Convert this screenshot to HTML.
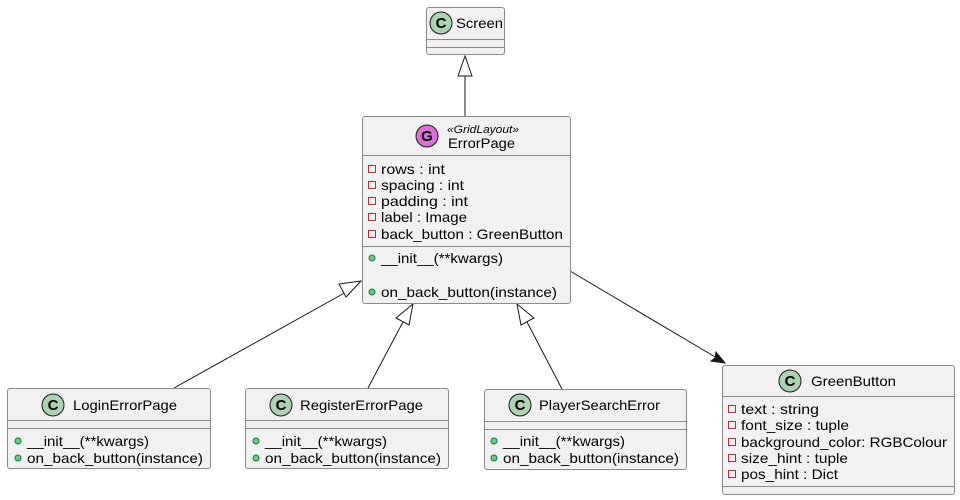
<!DOCTYPE html>
<html><head><meta charset="utf-8"><style>
html,body{margin:0;padding:0;background:#fff;}
svg{display:block;font-family:"Liberation Sans",sans-serif;}
</style></head><body>
<svg width="960" height="500" viewBox="0 0 960 500" xmlns="http://www.w3.org/2000/svg">
<defs>
<g id="pub"><circle r="3" fill="#84be84" stroke="#038048" stroke-width="1"/></g>
<g id="priv"><rect x="-3.5" y="-3.5" width="7" height="7" fill="none" stroke="#c82930" stroke-width="1"/></g>
</defs>
<g stroke="#181818" fill="none" stroke-width="1">
<line x1="465" y1="116" x2="465" y2="76"/>
<polygon points="465,56 458,76 472,76" fill="#fff"/>
<line x1="174" y1="388" x2="348" y2="291"/>
<polygon points="361,281 339,284 346,297" fill="#fff"/>
<line x1="368" y1="388" x2="403" y2="322"/>
<polygon points="413,304 396,318 409,325" fill="#fff"/>
<line x1="562" y1="389" x2="527" y2="322"/>
<polygon points="517,304 521,325 534,318" fill="#fff"/>
<line x1="570" y1="271" x2="722" y2="361"/>
<polygon points="725,363 711,361 715,358 716,352" fill="#181818"/>
</g>
<g stroke="#8a8a8a" stroke-width="1" fill="#f1f1f1">
<rect x="426.5" y="7.5" width="78" height="47" rx="2.5"/>
<rect x="362.5" y="116.5" width="208" height="187" rx="2.5"/>
<rect x="7.5" y="388.5" width="203" height="80" rx="2.5"/>
<rect x="245.5" y="388.5" width="203" height="80" rx="2.5"/>
<rect x="484.5" y="389.5" width="202" height="80" rx="2.5"/>
<rect x="722.5" y="365.5" width="232" height="129" rx="2.5"/>
</g>
<g stroke="#8a8a8a" stroke-width="1">
<line x1="427" y1="39.5" x2="504" y2="39.5"/><line x1="427" y1="47.5" x2="504" y2="47.5"/>
<line x1="363" y1="155.5" x2="570" y2="155.5"/><line x1="363" y1="246.5" x2="570" y2="246.5"/>
<line x1="8" y1="420.5" x2="210" y2="420.5"/><line x1="8" y1="428.5" x2="210" y2="428.5"/>
<line x1="246" y1="420.5" x2="448" y2="420.5"/><line x1="246" y1="428.5" x2="448" y2="428.5"/>
<line x1="485" y1="421.5" x2="686" y2="421.5"/><line x1="485" y1="429.5" x2="686" y2="429.5"/>
<line x1="723" y1="396.5" x2="954" y2="396.5"/><line x1="723" y1="486.5" x2="954" y2="486.5"/>
</g>
<g stroke="#181818" stroke-width="1">
<circle cx="441" cy="23" r="11" fill="#add1b2"/>
<circle cx="427" cy="136" r="11" fill="#da70d6"/>
<circle cx="53" cy="405" r="11" fill="#add1b2"/>
<circle cx="281" cy="405" r="11" fill="#add1b2"/>
<circle cx="520" cy="405" r="11" fill="#add1b2"/>
<circle cx="790" cy="381" r="11" fill="#add1b2"/>
</g>
<g font-size="15" font-weight="bold" text-anchor="middle" fill="#000">
<text x="441" y="28">C</text><text x="427" y="141">G</text>
<text x="53" y="410">C</text><text x="281" y="410">C</text>
<text x="520" y="410">C</text><text x="790" y="386">C</text>
</g>
<g font-size="14" fill="#000" lengthAdjust="spacingAndGlyphs">
<text x="456" y="28" textLength="47" lengthAdjust="spacingAndGlyphs">Screen</text>
<text x="447" y="133" font-size="11" font-style="italic" textLength="72" lengthAdjust="spacingAndGlyphs">«GridLayout»</text>
<text x="448" y="148" textLength="67" lengthAdjust="spacingAndGlyphs">ErrorPage</text>
<text x="73" y="410" textLength="104" lengthAdjust="spacingAndGlyphs">LoginErrorPage</text>
<text x="300" y="410" textLength="123" lengthAdjust="spacingAndGlyphs">RegisterErrorPage</text>
<text x="539" y="410" textLength="121" lengthAdjust="spacingAndGlyphs">PlayerSearchError</text>
<text x="811" y="386" textLength="85" lengthAdjust="spacingAndGlyphs">GreenButton</text>
</g>
<g font-size="14" fill="#000">
<text x="381" y="174" textLength="64" lengthAdjust="spacingAndGlyphs">rows : int</text>
<text x="381" y="190" textLength="83" lengthAdjust="spacingAndGlyphs">spacing : int</text>
<text x="381" y="206" textLength="87" lengthAdjust="spacingAndGlyphs">padding : int</text>
<text x="381" y="222" textLength="86" lengthAdjust="spacingAndGlyphs">label : Image</text>
<text x="381" y="239" textLength="182" lengthAdjust="spacingAndGlyphs">back_button : GreenButton</text>
<text x="381" y="263" textLength="122" lengthAdjust="spacingAndGlyphs">__init__(**kwargs)</text>
<text x="381" y="297" textLength="176" lengthAdjust="spacingAndGlyphs">on_back_button(instance)</text>
<text x="27" y="446" textLength="122" lengthAdjust="spacingAndGlyphs">__init__(**kwargs)</text>
<text x="27" y="463" textLength="176" lengthAdjust="spacingAndGlyphs">on_back_button(instance)</text>
<text x="265" y="446" textLength="122" lengthAdjust="spacingAndGlyphs">__init__(**kwargs)</text>
<text x="265" y="463" textLength="176" lengthAdjust="spacingAndGlyphs">on_back_button(instance)</text>
<text x="503" y="446" textLength="122" lengthAdjust="spacingAndGlyphs">__init__(**kwargs)</text>
<text x="503" y="463" textLength="176" lengthAdjust="spacingAndGlyphs">on_back_button(instance)</text>
<text x="741" y="414" textLength="78" lengthAdjust="spacingAndGlyphs">text : string</text>
<text x="741" y="430" textLength="108" lengthAdjust="spacingAndGlyphs">font_size : tuple</text>
<text x="741" y="447" textLength="206" lengthAdjust="spacingAndGlyphs">background_color: RGBColour</text>
<text x="741" y="463" textLength="107" lengthAdjust="spacingAndGlyphs">size_hint : tuple</text>
<text x="741" y="479" textLength="97" lengthAdjust="spacingAndGlyphs">pos_hint : Dict</text>
</g>
<use href="#priv" x="372" y="169"/><use href="#priv" x="372" y="185"/><use href="#priv" x="372" y="201"/><use href="#priv" x="372" y="217"/><use href="#priv" x="372" y="234"/>
<use href="#pub" x="372" y="258"/><use href="#pub" x="372" y="292"/>
<use href="#pub" x="18" y="441"/><use href="#pub" x="18" y="458"/>
<use href="#pub" x="256" y="441"/><use href="#pub" x="256" y="458"/>
<use href="#pub" x="494" y="441"/><use href="#pub" x="494" y="458"/>
<use href="#priv" x="732" y="409"/><use href="#priv" x="732" y="425"/><use href="#priv" x="732" y="442"/><use href="#priv" x="732" y="458"/><use href="#priv" x="732" y="474"/>
</svg>
</body></html>
